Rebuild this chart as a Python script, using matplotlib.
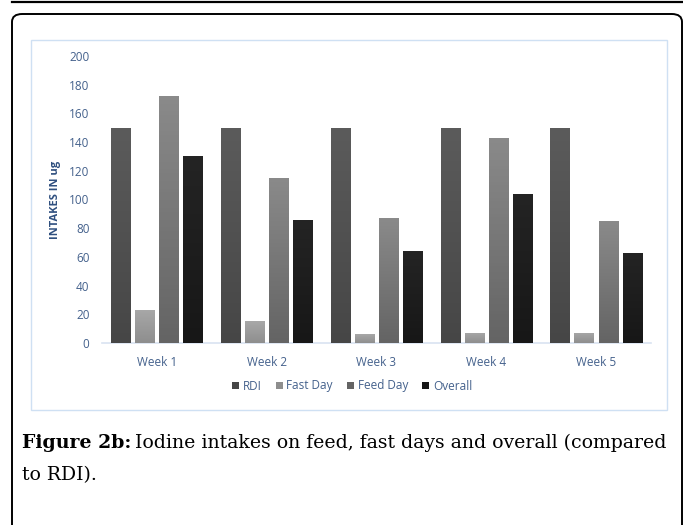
import matplotlib.pyplot as plt
import numpy as np
from matplotlib.colors import to_rgb
from matplotlib.patches import FancyBboxPatch, Rectangle

# Iodine intakes (ug) per week
weeks = ["Week 1", "Week 2", "Week 3", "Week 4", "Week 5"]
rdi = [150, 150, 150, 150, 150]
fast_day = [23, 15, 6, 7, 7]
feed_day = [172, 115, 87, 143, 85]
overall = [130, 86, 64, 104, 63]

series = [
    ("RDI", rdi, "#5b5b5b", "#464646"),
    ("Fast Day", fast_day, "#a8a8a8", "#8e8e8e"),
    ("Feed Day", feed_day, "#8a8a8a", "#646464"),
    ("Overall", overall, "#242424", "#171717"),
]

W, H = 683, 525
fig = plt.figure(figsize=(W / 100, H / 100), dpi=100)

def fx(px):
    return px / W

def fy(py):
    return 1 - py / H

# frame lines around the figure panel
fig.add_artist(plt.Line2D([fx(12), 1], [fy(1.5), fy(1.5)], color="black", lw=1.6))
fig.add_artist(FancyBboxPatch((fx(12), fy(600)), fx(670), fy(14) - fy(600),
                              boxstyle="round,pad=0,rounding_size=0.015",
                              transform=fig.transFigure, fill=False,
                              edgecolor="black", lw=1.4))
# light blue chart border
fig.add_artist(Rectangle((fx(31), fy(410)), fx(636), fy(40) - fy(410),
                         transform=fig.transFigure, fill=False,
                         edgecolor="#cfe0f3", lw=1.0))

ax = fig.add_axes([fx(102), fy(343), fx(549), fy(56) - fy(343)])

x = np.arange(len(weeks))
pitch = 0.219
width = 0.175
grad = np.linspace(0, 1, 64)
for i, (name, vals, ctop, cbot) in enumerate(series):
    bars = ax.bar(x + (i - 1.5) * pitch, vals, width, color=cbot, label=name,
                  edgecolor="none", zorder=2)
    c0, c1 = np.array(to_rgb(cbot)), np.array(to_rgb(ctop))
    img = (c0 + grad[:, None] * (c1 - c0)).reshape(64, 1, 3)
    # vertical shading inside each bar
    for b in bars:
        x0, y0 = b.get_x(), b.get_y()
        im = ax.imshow(img, extent=[x0, x0 + b.get_width(), y0, y0 + b.get_height()],
                       origin="lower", aspect="auto", zorder=3)
        im.set_clip_path(b)

ax.set_xlim(-0.5, len(weeks) - 0.5)
ax.set_ylim(0, 200)
ax.set_yticks(range(0, 201, 20))
ax.set_xticks(x)
ax.set_xticklabels(weeks)

tick_color = "#44618c"
for lab in ax.get_yticklabels() + ax.get_xticklabels():
    lab.set_family("Open Sans")
    lab.set_fontsize(8.5)
    lab.set_color(tick_color)
ax.tick_params(axis="both", length=0)
ax.tick_params(axis="y", pad=9)
ax.tick_params(axis="x", pad=9)
for s in ["top", "right", "left"]:
    ax.spines[s].set_visible(False)
ax.spines["bottom"].set_color("#d9e3f1")
ax.spines["bottom"].set_linewidth(1.2)

ax.set_ylabel("INTAKES IN ug", family="Open Sans", fontsize=8,
              fontweight="bold", color="#2f4f7f", labelpad=6)

leg = ax.legend(loc="center", bbox_to_anchor=(fx(352), fy(386)), bbox_transform=fig.transFigure,
                ncol=4, frameon=False, handlelength=0.6, handleheight=0.6,
                handletextpad=0.3, columnspacing=1.2,
                prop={"family": "Open Sans", "size": 8.5})
for t in leg.get_texts():
    t.set_color(tick_color)

# caption below the chart, sized so the first line runs from x=22 to x=668
def place_caption(size):
    kw = dict(family="DejaVu Serif", fontsize=size, va="center", ha="left")
    head = fig.text(fx(22), fy(443), "Figure 2b:", fontweight="bold", **kw)
    fig.canvas.draw()
    hb = head.get_window_extent()
    body = fig.text(fx(hb.x1 + 0.3 * size), fy(443),
                    "Iodine intakes on feed, fast days and overall (compared", **kw)
    tail = fig.text(fx(22), fy(475), "to RDI).", **kw)
    fig.canvas.draw()
    return [head, body, tail], body.get_window_extent().x1

size = 13
for _ in range(3):
    texts, right = place_caption(size)
    for t in texts:
        t.remove()
    size *= (668 - 22) / (right - 22)
place_caption(size)

fig.savefig("out.png", dpi=100)
